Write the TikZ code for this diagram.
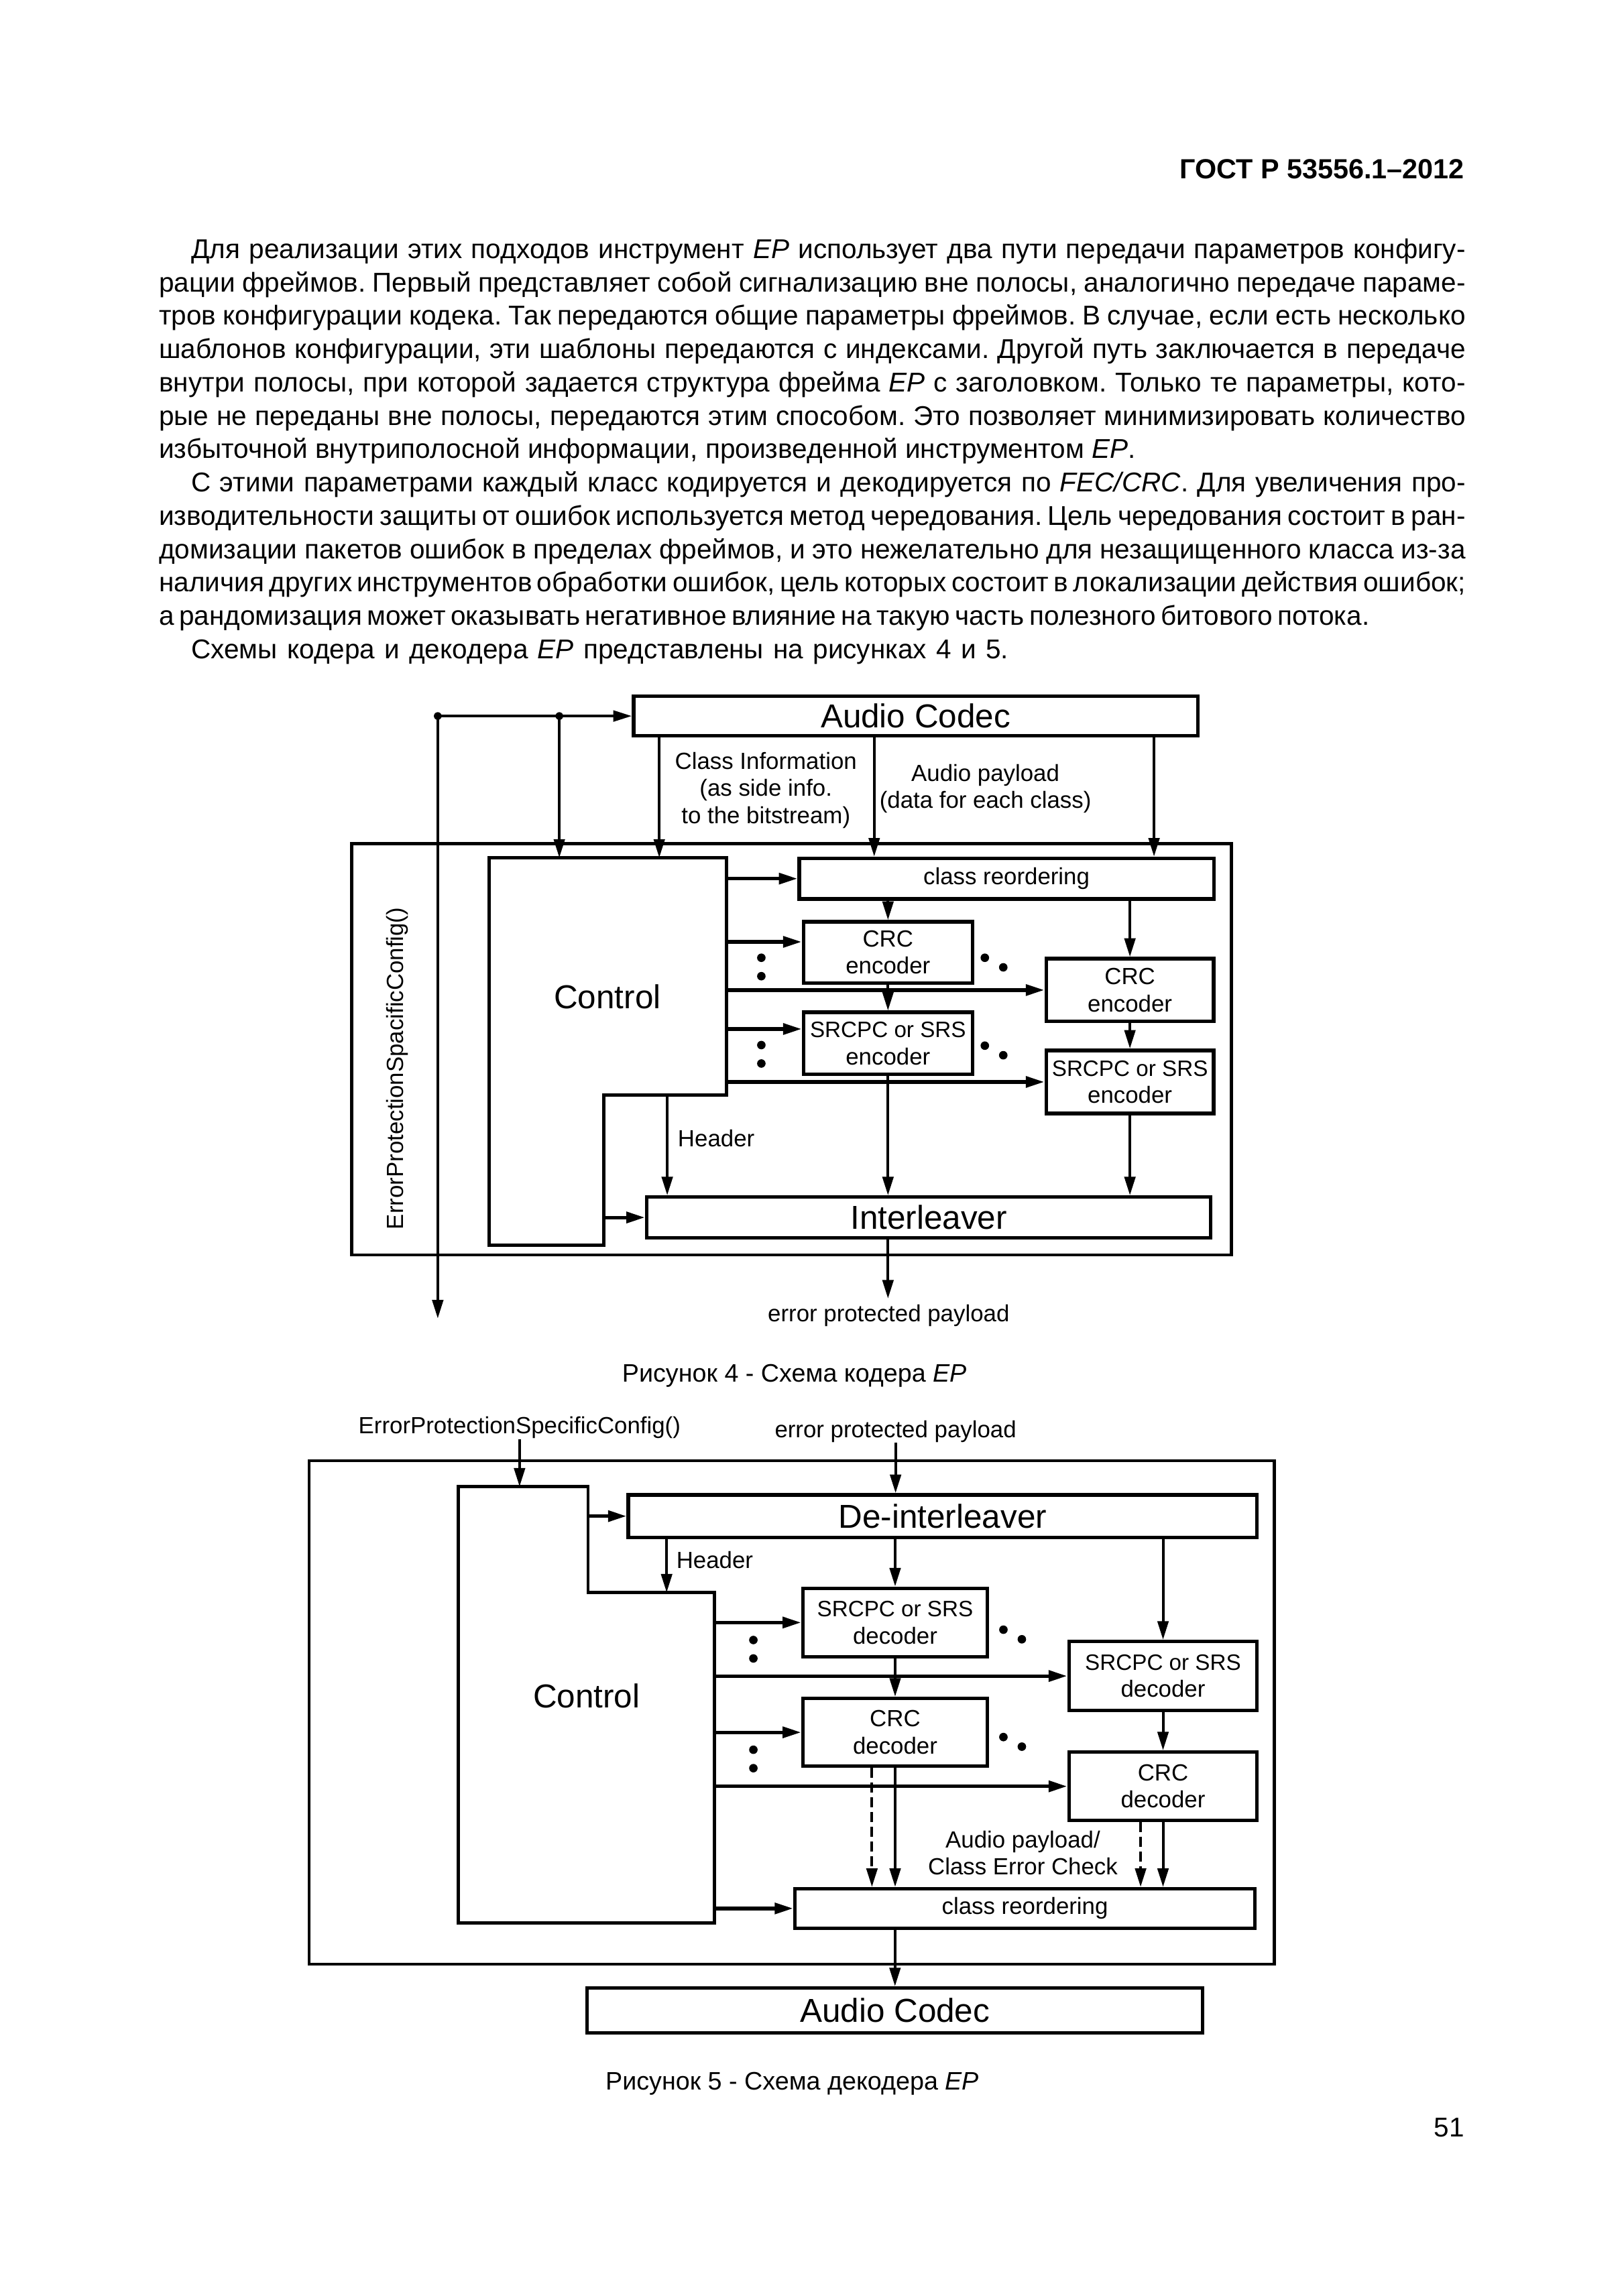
\documentclass[tikz,border=0pt]{standalone}
\usepackage{fontspec}
\setmainfont{Liberation Sans}
\usetikzlibrary{arrows.meta}
\frenchspacing

\providecommand{\px}{0.19083mm}
\providecommand{\SRline}{{\fontsize{8.2}{10}\selectfont SRCPC or SRS}}
\tikzset{
  body/.style={font=\fontsize{10}{12.2}\selectfont, inner sep=0},
  head/.style={font=\fontsize{10.2}{12.2}\selectfont\bfseries, inner sep=0},
  caption/.style={font=\fontsize{9.3}{11}\selectfont, inner sep=0},
  lbl/.style={font=\fontsize{8.6}{10}\selectfont, align=center, inner sep=0},
  biglbl/.style={font=\fontsize{12.2}{14}\selectfont, inner sep=0},
  outerbox/.style={draw, line width=1.1pt, inner sep=0},
  modbox/.style={draw, line width=1.3pt, inner sep=0, align=center, font=\fontsize{8.6}{10}\selectfont},
  bigbox/.style={modbox, font=\fontsize{12.2}{14}\selectfont},
  ctlshape/.style={line width=1.2pt, line join=miter},
  conn/.style={line width=1pt, -{Triangle[length=2.4mm,width=1.4mm]}},
  ctlarrow/.style={conn, line width=1.3pt},
  dashconn/.style={conn, dash pattern=on 1.3mm off 0.6mm},
}
\providecommand{\TextLine}[3]{
\node[body, anchor=base west] (#1) at (107.5,#2) {\makebox[169mm][s]{#3}};
}
\providecommand{\LastLine}[3]{
\node[body, anchor=base west] (#1) at (107.5,#2) {#3};
}
\providecommand{\Junction}[1]{
\fill (#1) circle (0.5mm);
}
\providecommand{\VDots}[1]{
\fill (#1) circle (0.55mm) ++(0,12.5) circle (0.55mm);
}
\providecommand{\DDots}[1]{
\fill (#1) circle (0.55mm) ++(12.5,6.5) circle (0.55mm);
}

\begin{document}
\begin{tikzpicture}[x=\px, y=-\px]
\fill[white] (0,0) rectangle (1100.45,1556.8);
\useasboundingbox (0,0) rectangle (1100.45,1556.8);

\node[head, anchor=base east] (gost) at (993,121.3) {ГОСТ Р 53556.1–2012};
\TextLine{t1}{175.2}{\hspace*{4.16mm}Для реализации этих подходов инструмент \textit{EP} использует два пути передачи параметров конфигу-}
\TextLine{t2}{197.8}{рации фреймов. Первый представляет собой сигнализацию вне полосы, аналогично передаче параме-}
\TextLine{t3}{220.4}{тров конфигурации кодека. Так передаются общие параметры фреймов. В случае, если есть несколько}
\TextLine{t4}{243.0}{шаблонов конфигурации, эти шаблоны передаются с индексами. Другой путь заключается в передаче}
\TextLine{t5}{265.6}{внутри полосы, при которой задается структура фрейма \textit{EP} с заголовком. Только те параметры, кото-}
\TextLine{t6}{288.3}{рые не переданы вне полосы, передаются этим способом. Это позволяет минимизировать количество}
\LastLine{t7}{310.9}{избыточной внутриполосной информации, произведенной инструментом \textit{EP}.}
\TextLine{t8}{333.5}{\hspace*{4.16mm}С этими параметрами каждый класс кодируется и декодируется по \textit{FEC/CRC}. Для увеличения про-}
\TextLine{t9}{356.1}{изводительности защиты от ошибок используется метод чередования. Цель чередования состоит в ран-}
\TextLine{t10}{378.7}{домизации пакетов ошибок в пределах фреймов, и это нежелательно для незащищенного класса из-за}
\TextLine{t11}{401.3}{наличия других инструментов обработки ошибок, цель которых состоит в локализации действия ошибок;}
\LastLine{t12}{423.9}{\makebox[156.25mm][s]{а рандомизация может оказывать негативное влияние на такую часть полезного битового потока.}}
\LastLine{t13}{446.5}{\hspace*{4.16mm}\makebox[105.7mm][s]{Схемы кодера и декодера \textit{EP} представлены на рисунках 4 и 5.}}

\node[outerbox, minimum width=596.3*\px, minimum height=279*\px] (fr4) at (536.5,711.5) {};
\node[bigbox, minimum width=382.4*\px, minimum height=27*\px] (ac4) at (620.7,485.5) {Audio Codec};
\node[modbox, minimum width=281*\px, minimum height=27.5*\px] (cr4) at (682.3,595.75) {class reordering};
\node[modbox, minimum width=114.6*\px, minimum height=41.5*\px] (crcA) at (601.95,645.75) {CRC\\encoder};
\node[modbox, minimum width=113.6*\px, minimum height=42.6*\px] (crcB) at (765.96,671.3) {CRC\\encoder};
\node[modbox, minimum width=114.6*\px, minimum height=42*\px] (srA) at (601.95,707.4) {\SRline\\encoder};
\node[modbox, minimum width=113.6*\px, minimum height=42.8*\px] (srB) at (765.96,733.6) {\SRline\\encoder};
\node[bigbox, minimum width=382.4*\px, minimum height=27.6*\px] (il4) at (629.6,825.5) {Interleaver};
\draw[ctlshape] (331.7,581.6) -- (492.4,581.6) coordinate (c4r) -- (492.4,742.3) -- (409.2,742.3) coordinate (c4n) -- (409.2,844.3) -- (331.7,844.3) -- cycle;
\node[biglbl] (ctl4) at (411.8,676) {Control};
\node[lbl, rotate=90] (cfg4) at (269.1,724.5) {ErrorProtectionSpacificConfig()};
\node[lbl] (ci4) at (519.2,535.7) {Class Information\\(as side info.\\to the bitstream)};
\node[lbl] (ap4) at (668,534.8) {Audio payload\\(data for each class)};
\node[lbl] (hd4) at (485.5,771.8) {Header};
\node[lbl] (ep4) at (602.4,892) {error protected payload};
\node[caption] (cap4) at (538.5,932.6) {Рисунок 4 - Схема кодера \textit{EP}};

\coordinate (dotA) at (296.75,485.5);
\coordinate (dotB) at (379.15,485.5);
\coordinate (cfgOut) at (296.75,894);
\coordinate (ciIn) at (446.9,581.6);
\coordinate (apA) at (592.6,540);
\coordinate (apB) at (782.3,540);
\coordinate (c4h) at (452.3,742.3);
\coordinate (epOut) at (601.95,880.5);
\coordinate (inA) at ([yshift=1.36mm]crcA.west);
\coordinate (inB) at ([yshift=1.85mm]srA.west);
\draw[conn] (dotA) -- (ac4.west);
\draw[conn] (dotA) -- (cfgOut);
\draw[conn] (dotB) -- (dotB |- c4r);
\draw[conn] (ciIn |- ac4.south) -- (ciIn);
\draw[conn] (apA |- ac4.south) -- (apA |- cr4.north);
\draw[conn] (apB |- ac4.south) -- (apB |- cr4.north);
\Junction{dotA}\Junction{dotB}
\draw[ctlarrow] (cr4.west -| c4r) -- (cr4.west);
\draw[ctlarrow] (inA -| c4r) -- (inA);
\draw[ctlarrow] (crcB.west -| c4r) -- (crcB.west);
\draw[ctlarrow] (inB -| c4r) -- (inB);
\draw[ctlarrow] (srB.west -| c4r) -- (srB.west);
\draw[ctlarrow] (il4.west -| c4n) -- (il4.west);
\draw[conn] (c4h) -- (c4h |- il4.north);
\draw[conn] (cr4.south -| crcA) -- (crcA.north);
\draw[conn] (crcA.south) -- (srA.north);
\draw[conn] (srA.south) -- (srA.south |- il4.north);
\draw[conn] (cr4.south -| crcB) -- (crcB.north);
\draw[conn] (crcB.south) -- (srB.north);
\draw[conn] (srB.south) -- (srB.south |- il4.north);
\draw[conn] (il4.south -| epOut) -- (epOut);
\VDots{516.1,649.4}\VDots{516.1,708.6}\DDots{667.6,649.4}\DDots{667.6,709}

\node[outerbox, minimum width=654.3*\px, minimum height=341.3*\px] (fr5) at (536.6,1161.15) {};
\node[lbl] (cfg5) at (352.2,968) {ErrorProtectionSpecificConfig()};
\node[lbl] (ep5) at (607.1,970.5) {error protected payload};
\node[bigbox, minimum width=426.1*\px, minimum height=28.8*\px] (di5) at (639,1028) {De-interleaver};
\node[modbox, minimum width=125*\px, minimum height=46.5*\px] (srC) at (606.8,1100.15) {\SRline\\decoder};
\node[modbox, minimum width=127.5*\px, minimum height=46.8*\px] (srD) at (788.4,1136.4) {\SRline\\decoder};
\node[modbox, minimum width=125*\px, minimum height=46*\px] (crcC) at (606.8,1174.6) {CRC\\decoder};
\node[modbox, minimum width=127.5*\px, minimum height=46.4*\px] (crcD) at (788.4,1211.2) {CRC\\decoder};
\node[modbox, minimum width=311.8*\px, minimum height=26.7*\px] (cr5) at (694.8,1294) {class reordering};
\node[bigbox, minimum width=417.2*\px, minimum height=30.5*\px] (ac5) at (606.7,1363.25) {Audio Codec};
\draw[ctlshape] (310.7,1008) -- (398.6,1008) coordinate (c5a) -- (398.6,1079.8) -- (484.5,1079.8) coordinate (c5r) -- (484.5,1303.9) -- (310.7,1303.9) -- cycle;
\node[biglbl] (ctl5) at (397.6,1149.7) {Control};
\node[lbl] (hd5) at (484.5,1057.6) {Header};
\node[lbl] (apl5) at (693.4,1256.4) {Audio payload/\\Class Error Check};
\node[caption] (cap5) at (537,1412.8) {Рисунок 5 - Схема декодера \textit{EP}};
\node[body, anchor=base east] (pg) at (993,1448.8) {51};

\coordinate (c5h) at (451.9,1079.8);
\coordinate (dC) at ([xshift=-3mm]crcC.south);
\coordinate (dD) at ([xshift=-2.9mm]crcD.south);
\draw[conn] (cfg5.south) -- (cfg5.south |- c5a);
\draw[conn] (ep5.south) -- (ep5.south |- di5.north);
\draw[ctlarrow] (di5.west -| c5a) -- (di5.west);
\draw[conn] (di5.south -| c5h) -- (c5h);
\draw[ctlarrow] (srC.west -| c5r) -- (srC.west);
\draw[ctlarrow] (srD.west -| c5r) -- (srD.west);
\draw[ctlarrow] (crcC.west -| c5r) -- (crcC.west);
\draw[ctlarrow] (crcD.west -| c5r) -- (crcD.west);
\draw[ctlarrow] (cr5.west -| c5r) -- (cr5.west);
\draw[conn] (di5.south -| srC) -- (srC.north);
\draw[conn] (srC.south) -- (crcC.north);
\draw[conn] (crcC.south) -- (crcC.south |- cr5.north);
\draw[dashconn] (dC) -- (dC |- cr5.north);
\draw[conn] (di5.south -| srD) -- (srD.north);
\draw[conn] (srD.south) -- (crcD.north);
\draw[conn] (crcD.south) -- (crcD.south |- cr5.north);
\draw[dashconn] (dD) -- (dD |- cr5.north);
\draw[conn] (cr5.south -| ac5) -- (ac5.north);
\VDots{510.7,1112}\VDots{510.7,1186.4}\DDots{680.2,1105}\DDots{680.2,1177.8}
\end{tikzpicture}
\end{document}
